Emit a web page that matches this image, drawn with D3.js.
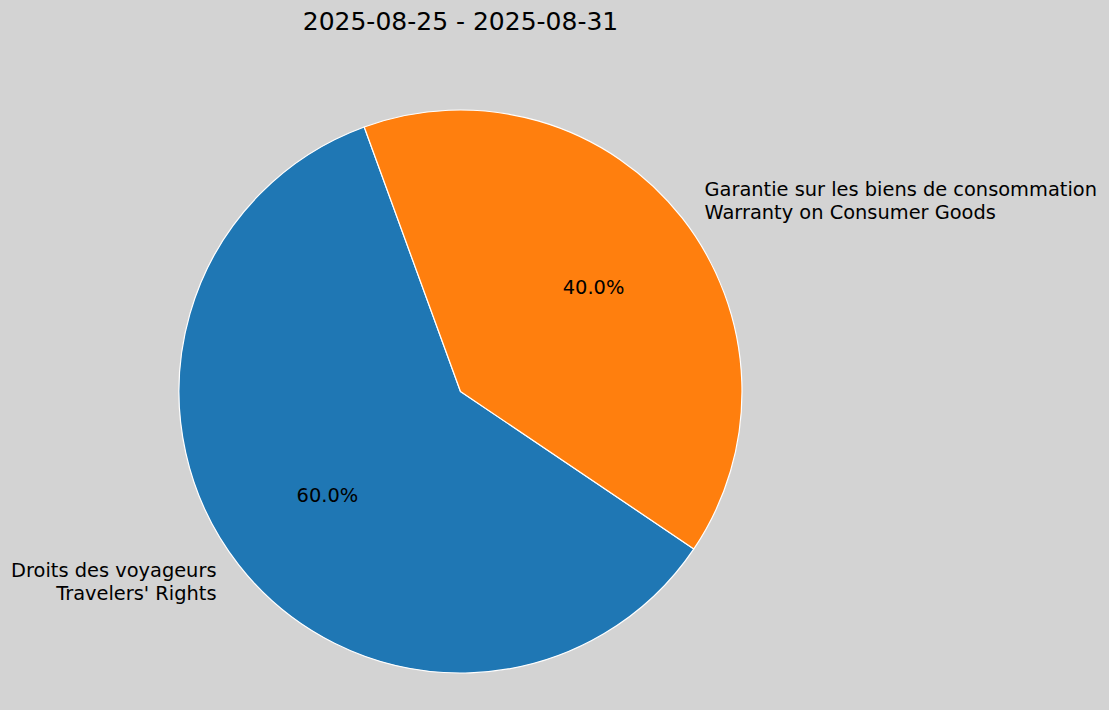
<!DOCTYPE html>
<html>
<head>
<meta charset="utf-8">
<script src="https://cdn.jsdelivr.net/npm/d3@7"></script>
<style>
  html, body { margin: 0; padding: 0; background: #d3d3d3; }
  svg { display: block; font-family: "DejaVu Sans", sans-serif; }
</style>
</head>
<body>
<div id="chart"></div>
<script>
const title = '2025-08-25 - 2025-08-31';
const labels = ['Droits des voyageurs\nTravelers\' Rights', 'Garantie sur les biens de consommation\nWarranty on Consumer Goods'];
const values = [60, 40];
const colors = ['#1f77b4', '#ff7f0e'];

const width = 1109, height = 710;
const cx = 460.5, cy = 391.5, r = 281.5;
// matplotlib-style start angle (degrees, counterclockwise from 3 o'clock)
const startDeg = 110;

const svg = d3.select('#chart').append('svg')
  .attr('width', width)
  .attr('height', height);

svg.append('rect')
  .attr('width', width)
  .attr('height', height)
  .attr('fill', '#d3d3d3');

svg.append('text')
  .attr('x', cx)
  .attr('y', 21)
  .attr('text-anchor', 'middle')
  .attr('dominant-baseline', 'central')
  .style('font-size', '25px')
  .text(title);

const a0 = (90 - startDeg) * Math.PI / 180;
const pie = d3.pie().sort(null)
  .startAngle(a0)
  .endAngle(a0 - 2 * Math.PI);
const arcs = pie(values);
const arc = d3.arc().innerRadius(0).outerRadius(r);

const g = svg.append('g').attr('transform', `translate(${cx},${cy})`);

g.selectAll('path')
  .data(arcs)
  .enter()
  .append('path')
  .attr('d', arc)
  .attr('fill', (d, i) => colors[i])
  .attr('stroke', '#fff')
  .attr('stroke-width', 1.2)
  .attr('stroke-linejoin', 'round');

const mid = (d) => (d.startAngle + d.endAngle) / 2;
const total = d3.sum(values);

// percentages
g.selectAll('.pct')
  .data(arcs)
  .enter()
  .append('text')
  .attr('class', 'pct')
  .attr('x', (d) => Math.sin(mid(d)) * r * 0.6)
  .attr('y', (d) => -Math.cos(mid(d)) * r * 0.6)
  .attr('text-anchor', 'middle')
  .attr('dominant-baseline', 'central')
  .style('font-size', '19.4px')
  .text((d) => (d.value / total * 100).toFixed(1) + '%');

// outer labels
const lineH = 22.5;
const lab = g.selectAll('.lab')
  .data(arcs)
  .enter()
  .append('text')
  .attr('class', 'lab')
  .attr('text-anchor', (d) => (Math.sin(mid(d)) >= 0 ? 'start' : 'end'))
  .style('font-size', '19.4px')
  .attr('transform', (d) => `translate(${Math.sin(mid(d)) * r * 1.1},${-Math.cos(mid(d)) * r * 1.1})`);

lab.each(function (d, i) {
  const lines = labels[i].split('\n');
  const t = d3.select(this);
  lines.forEach((ln, k) => {
    t.append('tspan')
      .attr('x', 0)
      .attr('y', (k - (lines.length - 1) / 2) * lineH)
      .attr('dominant-baseline', 'central')
      .text(ln);
  });
});
</script>
</body>
</html>
